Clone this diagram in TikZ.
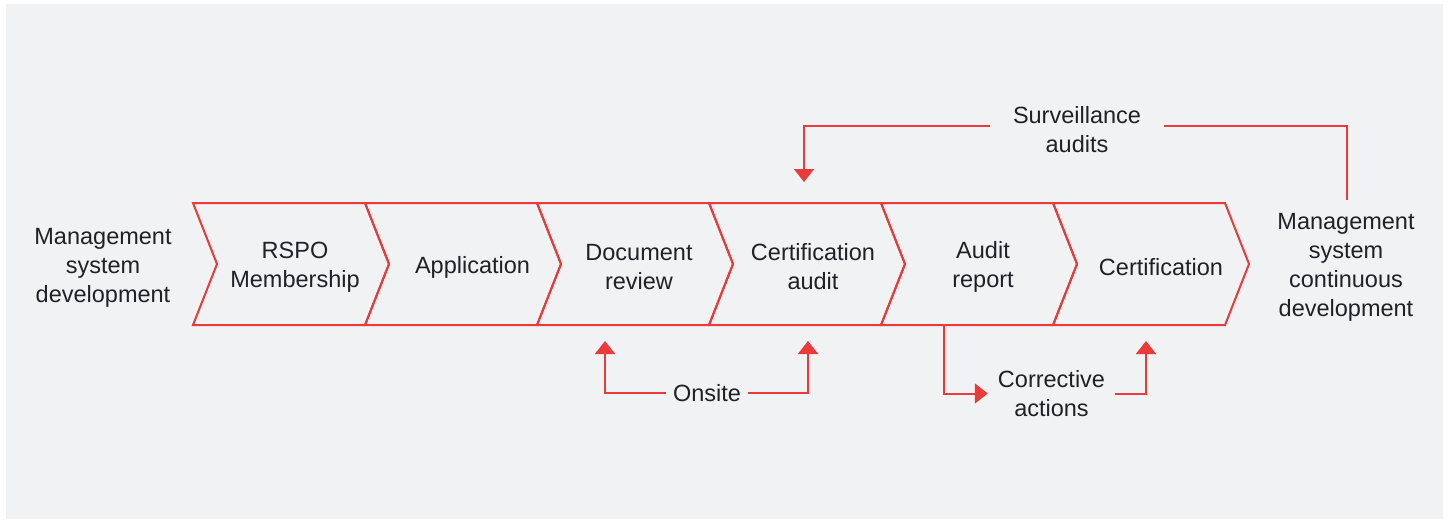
\documentclass[tikz,border=0pt]{standalone}
\usepackage{fontspec}
\setmainfont{Liberation Sans}
\usetikzlibrary{arrows.meta}
\definecolor{bg}{HTML}{F1F2F4}
\definecolor{acc}{HTML}{EA3A3A}
\definecolor{ink}{HTML}{1E2227}
\begin{document}
\begin{tikzpicture}[x=1pt,y=-1pt,
  chev/.style={draw=acc,line width=2pt,line join=miter},
  lbl/.style={text=ink,font=\fontsize{23.5}{29}\selectfont,align=center,inner sep=0pt},
  conn/.style={draw=acc,line width=2pt},
  tip/.style={-{Triangle[width=20pt,length=13pt]}}]
\useasboundingbox (0,0) rectangle (1448,520);
\fill[white] (0,0) rectangle (1448,520);
\fill[bg] (6,4) rectangle (1443,519);
% chevrons
\foreach \i in {0,...,5}{
  \pgfmathsetmacro{\xa}{193+172*\i}
  \draw[chev] (\xa,203) -- (\xa+172,203) -- (\xa+196,264) -- (\xa+172,325) -- (\xa,325) -- (\xa+24,264) -- cycle;
}
% labels in chevrons
\node[lbl] (rspo) at (295,267) {RSPO\\Membership};
\node[lbl] (app) at (472.5,267) {Application};
\node[lbl] (doc) at (639,267) {Document\\review};
\node[lbl] (cert) at (813,267) {Certification\\audit};
\node[lbl] (rep) at (983,267) {Audit\\report};
\node[lbl] (fin) at (1161,267) {Certification};
% side labels
\node[lbl] (msd) at (103,267.5) {Management\\system\\development};
\node[lbl] (mscd) at (1346,267.5) {Management\\system\\continuous\\development};
% anchor points on chevrons
\coordinate (docb) at (605,325);
\coordinate (certb) at (808,325);
\coordinate (certt) at (804,203);
\coordinate (repb) at (944,325);
\coordinate (finb) at (1146,325);
\coordinate (survend) at (1347,200);
% onsite
\node[lbl,inner xsep=7pt] (onsite) at (707,393) {Onsite};
\draw[conn,tip,shorten >=16pt] (onsite.west) -- (docb |- onsite.west) -- (docb);
\draw[conn,tip,shorten >=16pt] (onsite.east) -- (certb |- onsite.east) -- (certb);
% corrective actions
\node[lbl,inner xsep=10pt] (corr) at (1051.5,393.5) {Corrective\\actions};
\draw[conn,tip] (repb) -- (repb |- corr.west) -- (corr.west);
\draw[conn,tip,shorten >=16pt] (corr.east) -- (finb |- corr.east) -- (finb);
% surveillance audits
\node[lbl,inner xsep=23pt] (surv) at (1077,129.5) {Surveillance\\audits};
\coordinate (sl) at (804,126);
\coordinate (sr) at (1347,126);
\draw[conn,tip,shorten >=21pt] (surv.west |- sl) -- (sl) -- (certt);
\draw[conn] (surv.east |- sr) -- (sr) -- (survend);
\end{tikzpicture}
\end{document}
